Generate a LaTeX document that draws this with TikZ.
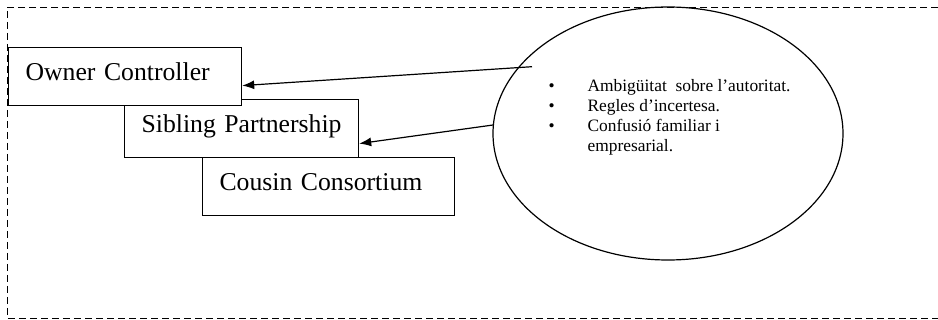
\documentclass[tikz,border=0pt]{standalone}
\usepackage{fontspec}
\setmainfont{Liberation Serif}
\usetikzlibrary{arrows.meta,shapes.geometric}
\tikzset{
    stagebox/.style={draw, fill=white, line width=1.2pt, anchor=north west,
        minimum height=58pt, inner xsep=17pt, inner ysep=0pt,
        text height=18pt, text depth=10pt, align=left,
        font=\fontsize{25.7}{30}\selectfont},
    border/.style={line width=0.9pt, dash pattern=on 7pt off 4pt}
}
\begin{document}
\begin{tikzpicture}[x=1pt,y=-1pt,>={Latex[length=12pt,width=9pt]},line width=1.2pt]
    \useasboundingbox (0,0) rectangle (938,320);
    \draw[border] (938,7) -| (7,318) -- (938,318);
    % the three stages
    \node[stagebox,text width=218pt] (cc) at (202,157) {Cousin Consortium};
    \node[stagebox,text width=200pt] (sp) at (124,99) {Sibling Partnership};
    \node[stagebox,text width=199pt] (oc) at (8,47) {Owner Controller};
    % problems
    \node[ellipse,draw,minimum width=350pt,minimum height=253pt,inner sep=0pt] (cloud) at (668,133.5) {};
    \node[anchor=base west,inner sep=0pt,font=\fontsize{17.4}{20}\selectfont] (issues) at (548,92)
        {\begin{tabular}[t]{@{}p{39pt}@{}l@{}}
            \textbullet & Ambigüitat\ \ sobre l’autoritat.\\
            \textbullet & Regles d’incertesa.\\
            \textbullet & Confusió familiar i\\
                        & empresarial.
        \end{tabular}};
    \coordinate (p1) at (532,66.7);
    \coordinate (p2) at (493,125);
    \draw[->] (p1)--([yshift=-9pt]oc.east);
    \draw[->] (p2)--([yshift=-15pt]sp.east);
\end{tikzpicture}
\end{document}
